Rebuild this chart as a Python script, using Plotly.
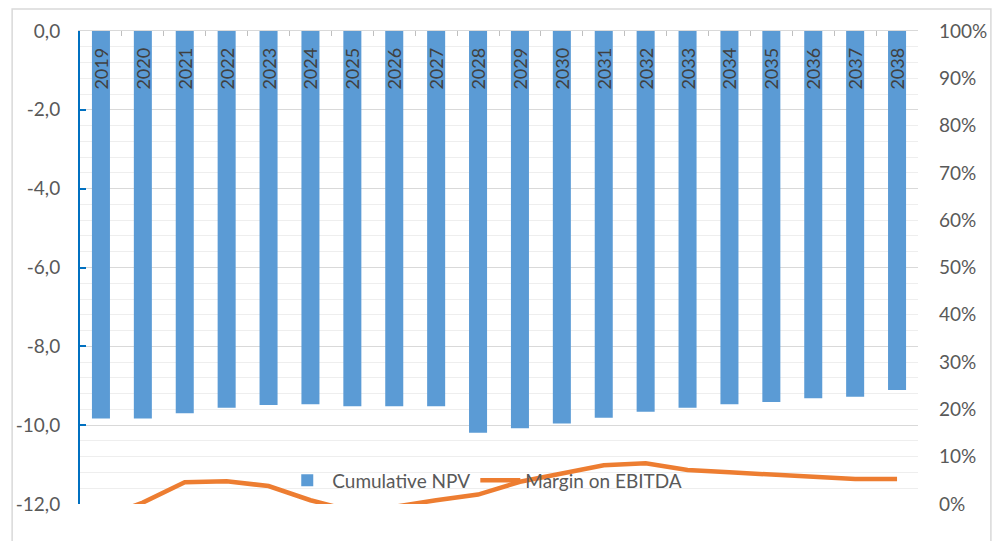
import plotly.graph_objects as go

# Years on the category axis
years = [str(y) for y in range(2019, 2039)]

# Cumulative NPV (left axis)
cumulative_npv = [-9.83, -9.83, -9.70, -9.56, -9.49, -9.47, -9.52, -9.52, -9.52, -10.19,
                  -10.08, -9.96, -9.81, -9.66, -9.56, -9.47, -9.41, -9.32, -9.28, -9.11]

# Margin on EBITDA (right axis, fraction)
margin_ebitda = [-0.030, 0.003, 0.046, 0.048, 0.038, 0.008, -0.015, -0.006, 0.008, 0.020,
                 0.047, 0.065, 0.082, 0.086, 0.072, 0.067, 0.063, 0.059, 0.053, 0.053]

# Left axis ticks with comma decimals
left_ticks = [0, -2, -4, -6, -8, -10, -12]
left_tick_text = ["0,0", "-2,0", "-4,0", "-6,0", "-8,0", "-10,0", "-12,0"]

FONT = "Lato"
TEXT = "#595959"

fig = go.Figure()

# year labels are written vertically inside each bar, next to the zero line
fig.add_trace(go.Bar(
    x=years, y=cumulative_npv, name="Cumulative NPV",
    marker=dict(color="#5B9BD5", line=dict(width=0)),
    text=years, texttemplate="%{text}\u00a0\u00a0\u00a0",
    textposition="inside", insidetextanchor="start", textangle=-90,
    constraintext="none",
    insidetextfont=dict(size=18, color="#404040", family=FONT),
    hoverinfo="x+y",
))

fig.add_trace(go.Scatter(
    x=years, y=margin_ebitda, name="Margin on EBITDA", mode="lines",
    line=dict(color="#ED7D31", width=4.5),
    yaxis="y2",
))

fig.update_layout(
    width=999, height=541,
    margin=dict(l=80, r=79, t=31, b=37),
    paper_bgcolor="white", plot_bgcolor="white",
    font=dict(family=FONT, color=TEXT),
    bargap=0.57,
    showlegend=True,
    legend=dict(
        orientation="h", x=0.483, xanchor="center", y=0.05, yanchor="middle",
        bgcolor="rgba(0,0,0,0)", font=dict(size=19, color=TEXT),
        itemwidth=40, traceorder="normal",
    ),
    # category axis along the zero line, with ticks between the years
    xaxis=dict(
        type="category", side="top", anchor="y",
        showline=True, linecolor="#d9d9d9", linewidth=1,
        ticks="inside", tickson="boundaries", ticklen=5, tickcolor="#bfbfbf",
        showticklabels=False, showgrid=False, zeroline=False,
    ),
    yaxis=dict(
        range=[-12, 0], tickvals=left_ticks, ticktext=left_tick_text,
        ticks="inside", ticklen=6, tickcolor="#0070C0", tickwidth=2,
        showline=True, linecolor="#0070C0", linewidth=2,
        showgrid=True, gridcolor="#d9d9d9", gridwidth=1,
        minor=dict(dtick=0.4, tick0=0, showgrid=True, gridcolor="#eeeeee", gridwidth=1),
        zeroline=False, ticklabelstandoff=14,
        tickfont=dict(size=19, color=TEXT, family=FONT),
    ),
    yaxis2=dict(
        range=[0, 1], overlaying="y", side="right", anchor="x",
        tickformat=".0%", dtick=0.1, tick0=0,
        showgrid=False, zeroline=False, showline=False, ticks="",
        ticklabelstandoff=20,
        tickfont=dict(size=19, color=TEXT, family=FONT),
    ),
    shapes=[dict(
        type="rect", xref="paper", yref="paper",
        x0=-0.081, x1=1.087, y0=-0.2, y1=1.0465,
        line=dict(color="#d9d9d9", width=1.5), fillcolor="rgba(0,0,0,0)", layer="below",
    )],
)

fig.write_html("out.html")
